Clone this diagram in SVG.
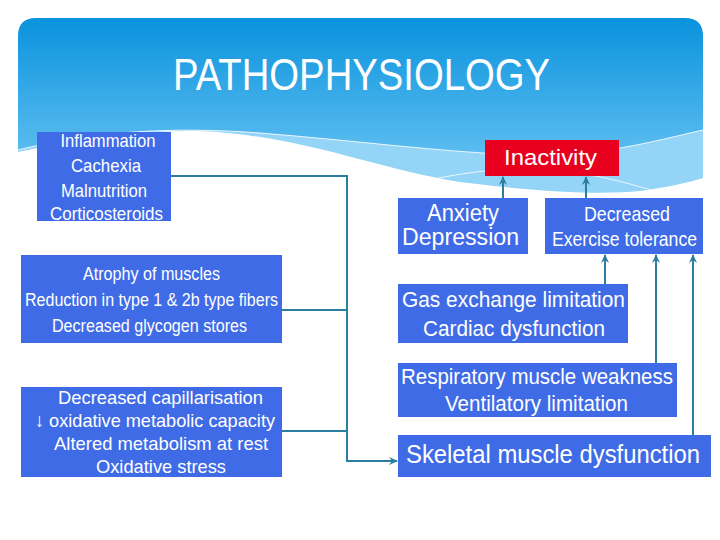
<svg xmlns="http://www.w3.org/2000/svg" width="720" height="540" viewBox="0 0 720 540">
<defs>
<linearGradient id="sky" x1="0" y1="0" x2="0" y2="1" gradientUnits="objectBoundingBox">
<stop offset="0" stop-color="#0A93DD"/>
<stop offset="1" stop-color="#5CBDF0"/>
</linearGradient>
<marker id="ah" markerWidth="10" markerHeight="10" refX="8" refY="5" orient="auto" markerUnits="userSpaceOnUse">
<path d="M0,1 L9,5 L0,9 L3,5 Z" fill="#2B7EA0"/>
</marker>
<style>
.box{fill:#3F6BE6}
.red{fill:#E8001E}
.t{font-family:"Liberation Sans",Arial,sans-serif;fill:#FFFFFF;text-anchor:middle}
.c{fill:none;stroke:#2B7EA0;stroke-width:2}
</style>
</defs>
<rect width="720" height="540" fill="#FFFFFF"/>
<g id="background">
<path d="M18,152 C80,138 140,130 200,131 C300,135 380,170 460,182 C540,192 600,195 640,191 C670,187 690,182 703,178 V120 H18 Z" fill="#93D4F7"/>
<path d="M380,192 C440,176 490,166 550,170 C600,174 630,184 665,194" fill="none" stroke="#FFFFFF" stroke-width="1" opacity="0.8"/>
<path d="M18,36 Q18,18 36,18 H685 Q703,18 703,36 V130 C650,142 600,157 520,155 C440,152 350,140 260,133 C170,126 90,132 18,150 Z" fill="url(#sky)"/>
<path d="M18,150 C90,132 170,126 260,133 C350,140 440,152 520,155 C600,157 650,142 703,130" fill="none" stroke="#FFFFFF" stroke-width="1" opacity="0.85"/>
<text x="361.5" y="90" font-family="Liberation Sans, Arial, sans-serif" font-size="45" fill="#FFFFFF" text-anchor="middle" textLength="377" lengthAdjust="spacingAndGlyphs">PATHOPHYSIOLOGY</text>
</g>
<g id="connectors">
<polyline class="c" points="171,176 347,176 347,461 397,461" marker-end="url(#ah)"/>
<line class="c" x1="282" y1="310" x2="347" y2="310"/>
<line class="c" x1="282" y1="431" x2="347" y2="431"/>
<line class="c" x1="503" y1="198" x2="503" y2="177" marker-end="url(#ah)"/>
<line class="c" x1="586" y1="198" x2="586" y2="177" marker-end="url(#ah)"/>
<line class="c" x1="605" y1="284" x2="605" y2="255" marker-end="url(#ah)"/>
<line class="c" x1="656" y1="363" x2="656" y2="255" marker-end="url(#ah)"/>
<line class="c" x1="693" y1="435" x2="693" y2="255" marker-end="url(#ah)"/>
</g>
<g id="n-causes">
<rect class="box" x="37" y="132" width="134" height="89"/>
<text class="t" font-size="18.5" x="108" y="147" textLength="95" lengthAdjust="spacingAndGlyphs">Inflammation</text>
<text class="t" font-size="18.5" x="106" y="172" textLength="70" lengthAdjust="spacingAndGlyphs">Cachexia</text>
<text class="t" font-size="18.5" x="104" y="197" textLength="86" lengthAdjust="spacingAndGlyphs">Malnutrition</text>
<text class="t" font-size="18.5" x="106.5" y="220" textLength="113" lengthAdjust="spacingAndGlyphs">Corticosteroids</text>
</g>
<g id="n-atrophy">
<rect class="box" x="21" y="255" width="261" height="88"/>
<text class="t" font-size="18" x="151.5" y="280" textLength="137" lengthAdjust="spacingAndGlyphs">Atrophy of muscles</text>
<text class="t" font-size="18" x="151.5" y="306" textLength="253" lengthAdjust="spacingAndGlyphs">Reduction in type 1 &amp; 2b type fibers</text>
<text class="t" font-size="18" x="149.5" y="332" textLength="195" lengthAdjust="spacingAndGlyphs">Decreased glycogen stores</text>
</g>
<g id="n-capillary">
<rect class="box" x="21" y="387" width="261" height="90"/>
<text class="t" font-size="19" x="160.5" y="404" textLength="205" lengthAdjust="spacingAndGlyphs">Decreased capillarisation</text>
<text class="t" font-size="19" x="155" y="427" textLength="240" lengthAdjust="spacingAndGlyphs">↓ oxidative metabolic capacity</text>
<text class="t" font-size="19" x="161" y="450" textLength="214" lengthAdjust="spacingAndGlyphs">Altered metabolism at rest</text>
<text class="t" font-size="19" x="161" y="473" textLength="130" lengthAdjust="spacingAndGlyphs">Oxidative stress</text>
</g>
<g id="n-inactivity">
<rect class="red" x="485" y="140" width="134" height="36"/>
<text class="t" font-size="21.5" x="550.5" y="165" textLength="93" lengthAdjust="spacingAndGlyphs">Inactivity</text>
</g>
<g id="n-anxiety">
<rect class="box" x="398" y="198" width="130" height="56"/>
<text class="t" font-size="23" x="463" y="221" textLength="72" lengthAdjust="spacingAndGlyphs">Anxiety</text>
<text class="t" font-size="23" x="460.5" y="245" textLength="117" lengthAdjust="spacingAndGlyphs">Depression</text>
</g>
<g id="n-exercise">
<rect class="box" x="545" y="198" width="158" height="56"/>
<text class="t" font-size="21" x="627" y="221" textLength="86" lengthAdjust="spacingAndGlyphs">Decreased</text>
<text class="t" font-size="21" x="624.5" y="246" textLength="145" lengthAdjust="spacingAndGlyphs">Exercise tolerance</text>
</g>
<g id="n-gas">
<rect class="box" x="398" y="284" width="230" height="59"/>
<text class="t" font-size="22.5" x="513.5" y="307" textLength="223" lengthAdjust="spacingAndGlyphs">Gas exchange limitation</text>
<text class="t" font-size="22.5" x="514" y="336" textLength="182" lengthAdjust="spacingAndGlyphs">Cardiac dysfunction</text>
</g>
<g id="n-respiratory">
<rect class="box" x="398" y="363" width="279" height="54"/>
<text class="t" font-size="21.5" x="537" y="384" textLength="272" lengthAdjust="spacingAndGlyphs">Respiratory muscle weakness</text>
<text class="t" font-size="21.5" x="536.5" y="411" textLength="183" lengthAdjust="spacingAndGlyphs">Ventilatory limitation</text>
</g>
<g id="n-skeletal">
<rect class="box" x="398" y="435" width="313" height="42"/>
<text class="t" font-size="25" x="553" y="463" textLength="294" lengthAdjust="spacingAndGlyphs">Skeletal muscle dysfunction</text>
</g>
</svg>
